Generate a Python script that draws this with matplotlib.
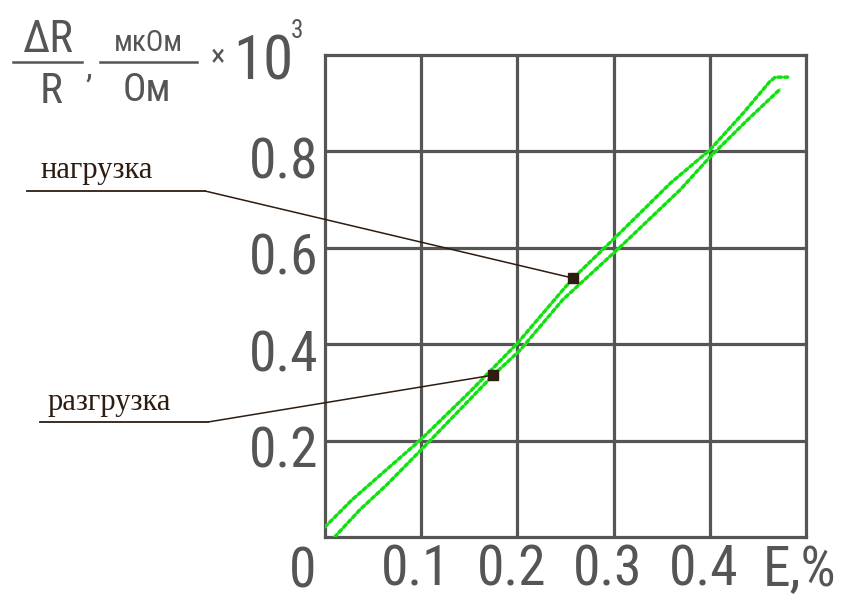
import matplotlib
matplotlib.use("Agg")
import matplotlib.pyplot as plt
from matplotlib import font_manager
from matplotlib.lines import Line2D
from matplotlib.transforms import ScaledTranslation

# --- data -------------------------------------------------------------
# relative strain E, %  and  dR/R (x10^3) for the loading curve
load_x = [0.000, 0.028, 0.064, 0.099, 0.150, 0.200, 0.247, 0.258, 0.299,
          0.359, 0.400, 0.435, 0.462, 0.468, 0.481]
load_y = [0.021, 0.077, 0.140, 0.201, 0.300, 0.402, 0.512, 0.537, 0.616,
          0.734, 0.803, 0.880, 0.944, 0.954, 0.954]

# unloading curve
unload_x = [0.010, 0.036, 0.064, 0.102, 0.175, 0.203, 0.247, 0.307, 0.369,
            0.400, 0.439, 0.473]
unload_y = [0.000, 0.056, 0.108, 0.185, 0.336, 0.388, 0.492, 0.602, 0.720,
            0.788, 0.865, 0.929]

# labelled points on the curves
load_mark = (0.258, 0.537)
unload_mark = (0.175, 0.336)

x_ticks = [0.1, 0.2, 0.3, 0.4, 0.5]
x_tick_labels = ["0.1", "0.2", "0.3", "0.4", "E,%"]
y_ticks = [0.2, 0.4, 0.6, 0.8]
y_tick_labels = ["0.2", "0.4", "0.6", "0.8"]

# --- fonts -------------------------------------------------------------
available = {f.name for f in font_manager.fontManager.ttflist}
narrow = next((n for n in ["Liberation Sans Narrow", "Roboto Condensed",
                           "DejaVu Sans"] if n in available), "DejaVu Sans")
serif = next((n for n in ["Liberation Serif", "DejaVu Serif"] if n in available),
             "DejaVu Serif")

GRAY = "#555555"
INK = "#2e1c10"
GREEN_DOT = "#10e010"
GREEN_SOFT = "#a4f2a4"

W, H = 845, 600
fig = plt.figure(figsize=(W / 100, H / 100), dpi=100)


def px(x, y):
    return x / W, 1 - y / H


ax = fig.add_axes([325 / W, 1 - 537 / H, (806 - 325) / W, (537 - 55) / H])
ax.set_xlim(0, 0.5)
ax.set_ylim(0, 1.0)

# grid and frame
for v in [0.1, 0.2, 0.3, 0.4]:
    ax.axvline(v, color=GRAY, lw=2.3, zorder=1)
for v in [0.2, 0.4, 0.6, 0.8]:
    ax.axhline(v, color=GRAY, lw=2.3, zorder=1)
for s in ax.spines.values():
    s.set_color(GRAY)
    s.set_linewidth(2.3)

# curves: pale core with bright dotted trace
for xs, ys in [(load_x, load_y), (unload_x, unload_y)]:
    ax.plot(xs, ys, color=GREEN_SOFT, lw=2.0, zorder=3, solid_capstyle="round")
    ax.plot(xs, ys, color=GREEN_DOT, lw=2.4, ls=(0, (1.0, 1.0)), zorder=4,
            dash_capstyle="round")

# ticks
ax.set_xticks(x_ticks, x_tick_labels)
ax.set_yticks(y_ticks, y_tick_labels)
ax.tick_params(length=0, colors=GRAY, labelsize=40, pad=5)
for lab in ax.get_xticklabels() + ax.get_yticklabels():
    lab.set_fontfamily(narrow)
# x labels sit slightly left of their grid lines, y labels slightly below
for lab in ax.get_xticklabels():
    lab.set_transform(lab.get_transform()
                      + ScaledTranslation(-6 / 100, 0, fig.dpi_scale_trans))
for lab in ax.get_yticklabels():
    lab.set_verticalalignment("center_baseline")
    lab.set_transform(lab.get_transform()
                      + ScaledTranslation(0, -6 / 100, fig.dpi_scale_trans))
fig.text(*px(316, 588), "0", fontsize=40, family=narrow, color=GRAY,
         ha="right", va="baseline")

# leader lines with labels
def leader(text, text_xy, line_y, x0, x1, mark):
    fig.text(*px(*text_xy), text, fontsize=22, family=serif, color=INK,
             ha="left", va="baseline")
    fig.add_artist(Line2D([x0 / W, x1 / W], [1 - line_y / H, 1 - line_y / H],
                          color=INK, lw=1.3))
    ax.annotate("", xy=mark, xycoords="data",
                xytext=px(x1, line_y), textcoords="figure fraction",
                arrowprops=dict(arrowstyle="-", color=INK, lw=1.1,
                                shrinkA=0, shrinkB=0),
                annotation_clip=False, zorder=5)
    ax.plot(*mark, marker="s", ms=7.5, color=INK, zorder=6, clip_on=False)


leader("нагрузка", (40, 178), 191, 27, 205, load_mark)
leader("разгрузка", (48, 410), 422, 40, 208, unload_mark)

# axis caption:  dR/R, мкОм/Ом x 10^3
fig.text(*px(47, 52), "ΔR", fontsize=32, family=narrow, color=GRAY,
         ha="center", va="baseline")
fig.add_artist(Line2D([13 / W, 82 / W], [1 - 62 / H] * 2, color=GRAY, lw=1.8))
fig.text(*px(51, 103), "R", fontsize=31, family=narrow, color=GRAY,
         ha="center", va="baseline")
fig.text(*px(89, 78), ",", fontsize=24, family=narrow, color=GRAY,
         ha="center", va="baseline")
fig.text(*px(148, 51), "мкОм", fontsize=21, family=narrow, color=GRAY,
         ha="center", va="baseline")
fig.add_artist(Line2D([100 / W, 197 / W], [1 - 62 / H] * 2, color=GRAY, lw=1.8))
fig.text(*px(147, 101), "Ом", fontsize=28, family=narrow, color=GRAY,
         ha="center", va="baseline")
fig.text(*px(218, 58), "×", fontsize=22, family=narrow, color=GRAY,
         ha="center", va="center")
fig.text(*px(263, 80), "10", fontsize=44, family=narrow, color=GRAY,
         ha="center", va="baseline")
fig.text(*px(297, 38), "3", fontsize=18, family=narrow, color=GRAY,
         ha="center", va="baseline")

fig.savefig("out.png", dpi=100)
